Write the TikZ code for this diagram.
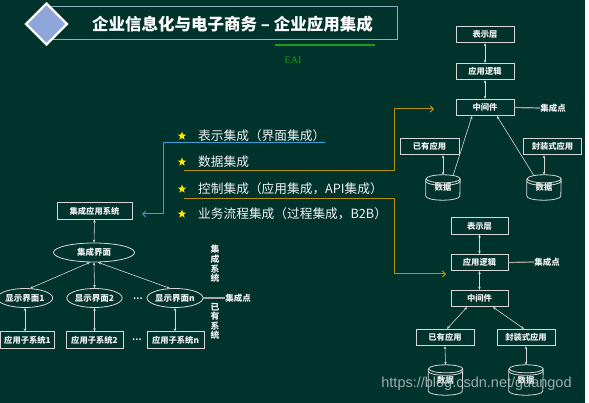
\documentclass[tikz,border=0pt]{standalone}
\usepackage{fontspec}
\newfontfamily\cjk{Noto Sans CJK SC}
\newfontfamily\wmfont{Liberation Sans}
\newfontfamily\enserif{Liberation Serif}
\usetikzlibrary{shapes.geometric,arrows.meta,calc}
\definecolor{bg}{HTML}{01332D}
\definecolor{boxline}{HTML}{D8D8D8}
\definecolor{txt}{HTML}{F2F2F2}
\definecolor{blueln}{HTML}{34A2D6}
\definecolor{goldln}{HTML}{B8920C}
\definecolor{titleln}{HTML}{8FAEC4}
\definecolor{dia}{HTML}{8EA6D9}
\definecolor{grn}{HTML}{1E9A1E}
\definecolor{starc}{HTML}{FFE800}
\definecolor{ptline}{HTML}{A8A8A8}
\begin{document}
\begin{tikzpicture}[x=1pt,y=-1pt,
  box/.style={draw=boxline, line width=0.8pt, text=txt, font=\cjk\bfseries\fontsize{8.3}{9}\selectfont, inner sep=0pt, minimum height=16.5pt},
  ell/.style={ellipse, draw=boxline, line width=0.8pt, text=txt, font=\cjk\bfseries\fontsize{8.5}{9}\selectfont, inner sep=0pt, minimum height=19pt},
  cylnode/.style={text=txt, font=\cjk\bfseries\fontsize{8.3}{9}\selectfont, inner sep=0pt, minimum width=34pt},
  cyl/.style={draw=boxline, line width=0.8pt},
  dar/.style={draw=boxline, line width=0.6pt, {Stealth[length=3pt,width=2.6pt]}-{Stealth[length=3pt,width=2.6pt]}},
  sar/.style={draw=boxline, line width=0.6pt, -{Stealth[length=3pt,width=2.6pt]}},
  lbl/.style={text=txt, font=\cjk\bfseries\fontsize{8.5}{9}\selectfont, inner sep=0pt},
  vlbl/.style={text=txt, font=\cjk\bfseries\fontsize{8.8}{9.6}\selectfont, inner sep=0pt, align=center},
  ptl/.style={draw=ptline, line width=1.2pt},
  li/.style={text=txt, font=\cjk\fontsize{12.7}{14}\selectfont, anchor=west, inner sep=0pt},
  st/.style={star, star points=5, star point ratio=2.4, fill=starc, inner sep=0pt, minimum size=9pt},
  conn/.style={line width=1pt, -{Straight Barb[length=3pt,width=6pt]}},
]
\path[use as bounding box] (0,0) rectangle (589,403);
\fill[white] (0,0) rectangle (589,403);
\fill[bg] (0,0) rectangle (585,403);

% ---- title ----
\node[draw=titleln, line width=0.8pt, minimum width=347pt, minimum height=33pt, inner sep=0] (titlebox) at (223.5,22.5) {};
\node[diamond, draw=white, line width=2.4pt, fill=dia, minimum width=42pt, minimum height=42pt, inner sep=0] (dm) at (46.5,24) {};
\node[text=white, font=\cjk\bfseries\fontsize{16.5}{18}\selectfont, inner sep=0] (title) at (232.5,24.5) {企业信息化与电子商务 – 企业应用集成};
\coordinate (g0) at (275,45);
\coordinate (g1) at (375,45);
\draw[grn, line width=1.2pt] (g0) -- (g1);
\node[text=grn, font=\enserif\fontsize{10}{11}\selectfont, inner sep=0] (eai) at (293,60) {EAI};

% ---- list ----
\node[st] (st1) at (182,136) {};
\node[st] (st2) at (182,162) {};
\node[st] (st3) at (182,189) {};
\node[st] (st4) at (182,214) {};
\node[li] (li1) at (198,135.5) {表示集成（界面集成）};
\node[li] (li2) at (198,161.5) {数据集成};
\node[li] (li3) at (198,188.5) {控制集成（应用集成，API集成）};
\node[li] (li4) at (198,213.5) {业务流程集成（过程集成，B2B）};

% ---- left diagram ----
\node[box, minimum width=75pt] (sys) at (94.5,211) {集成应用系统};
\node[ell, minimum width=81pt] (ui) at (94,252.5) {集成界面};
\node[ell, minimum width=50pt] (s1) at (25,298) {显示界面1};
\node[ell, minimum width=51pt] (s2) at (94.5,298) {显示界面2};
\node[ell, minimum width=50pt] (sn) at (175,298) {显示界面n};
\node[lbl] (dots1) at (138,299) {…};
\node[box, minimum width=54pt] (a1) at (27.5,340) {应用子系统1};
\node[box, minimum width=57pt] (a2) at (94.5,340) {应用子系统2};
\node[box, minimum width=57pt] (an) at (175.5,340) {应用子系统n};
\node[lbl] (dots2) at (137,340) {…};
\node[lbl] (ptL) at (238,298) {集成点};
\node[vlbl] (vs1) at (215,264) {集\\成\\系\\统};
\node[vlbl] (vs2) at (215,321.5) {已\\有\\系\\统};
\draw[ptl] (sn.east) -- (ptL.west);
\draw[dar] (sys.south) -- (ui.north);
\draw[dar] (ui.-112) -- (s1.62);
\draw[dar] (ui.south) -- (s2.north);
\draw[dar] (ui.-68) -- (sn.118);
\draw[dar] (s1.south) -- ([xshift=-2.5pt]a1.north);
\draw[dar] (s2.south) -- (a2.north);
\draw[dar] (sn.south) -- ([xshift=-0.5pt]an.north);

% ---- top right diagram ----
\node[box, minimum width=58pt] (t1) at (485,34.5) {表示层};
\node[box, minimum width=58pt] (t2) at (485,71.5) {应用逻辑};
\node[box, minimum width=58pt] (t3) at (485,107.5) {中间件};
\node[lbl] (ptT) at (553,108) {集成点};
\node[box, minimum width=59pt] (e1) at (429.5,146.5) {已有应用};
\node[box, minimum width=58pt] (e2) at (552.5,146.5) {封装式应用};
\node[cylnode, minimum height=25pt] (d1) at (443,187.5) {\raisebox{-3pt}{数据}};
\node[cylnode, minimum height=25pt] (d2) at (544,187.5) {\raisebox{-3pt}{数据}};
\draw[ptl] (t3.east) -- (ptT.west);
\draw[dar] (t1.south) -- (t2.north);
\draw[dar] (t2.south) -- (t3.north);
\draw[dar] ([xshift=13.5pt]e1.south) -- (d1.north);
\draw[dar] ([xshift=-8.5pt]e2.south) -- (d2.north);
\draw[sar] ([xshift=10pt,yshift=-1pt]d1.north) -- ([xshift=-13pt]t3.south);
\draw[sar] ([xshift=-10pt,yshift=-1pt]d2.north) -- ([xshift=12pt]t3.south);

% ---- bottom right diagram ----
\node[box, minimum width=57pt] (b1) at (479.5,226) {表示层};
\node[box, minimum width=57pt] (b2) at (479.5,262.5) {应用逻辑};
\node[box, minimum width=57pt] (b3) at (479.5,298.5) {中间件};
\node[lbl] (ptB) at (547,262) {集成点};
\node[box, minimum width=58pt] (f1) at (445,337.5) {已有应用};
\node[box, minimum width=58pt] (f2) at (526,337.5) {封装式应用};
\node[cylnode, minimum height=30pt] (d3) at (445.5,380) {\raisebox{-4pt}{数据}};
\node[cylnode, minimum height=30pt] (d4) at (526,380) {\raisebox{-4pt}{数据}};
\draw[ptl] (b2.east) -- (ptB.west);
\draw[dar] (b1.south) -- (b2.north);
\draw[dar] (b2.south) -- (b3.north);
\draw[dar] ([xshift=-12.5pt]b3.south) -- ([xshift=2pt]f1.north);
\draw[dar] ([xshift=13.5pt]b3.south) -- ([xshift=-2pt]f2.north);
\draw[dar] (f1.south) -- (d3.north);
\draw[dar] (f2.south) -- (d4.north);

% cylinders
\foreach \n in {d1,d2,d3,d4}{
  \draw[cyl] ([yshift=-4pt]\n.north west) -- ([yshift=4pt]\n.south west)
     arc[start angle=180,end angle=360,x radius=17pt,y radius=4pt]
     -- ([yshift=-4pt]\n.north east)
     arc[start angle=0,end angle=360,x radius=17pt,y radius=4pt];
  \draw[cyl] ([yshift=-6.5pt]\n.north west) arc[start angle=180,end angle=360,x radius=17pt,y radius=4pt];
}

% ---- connectors from the list ----
\coordinate (bl0) at (325,143);
\coordinate (bl1) at (163,143);
\coordinate (bl2) at (163,214);
\coordinate (bl3) at (142,214);
\draw[conn, blueln] (bl0) -- (bl1) -- (bl2) -- (bl3);
\coordinate (ga0) at (184,171);
\coordinate (ga1) at (394,171);
\coordinate (ga2) at (394,109);
\coordinate (ga3) at (434,109);
\draw[conn, goldln] (ga0) -- (ga1) -- (ga2) -- (ga3);
\coordinate (gb0) at (184,199);
\coordinate (gb1) at (394,199);
\coordinate (gb2) at (394,274);
\coordinate (gb3) at (446,274);
\draw[conn, goldln] (gb0) -- (gb1) -- (gb2) -- (gb3);

% ---- watermark ----
\node[text=white!70!bg, opacity=0.85, font=\wmfont\fontsize{14.5}{16}\selectfont, inner sep=0] (wm) at (476.5,384) {https://blog.csdn.net/guangod};
\end{tikzpicture}
\end{document}
